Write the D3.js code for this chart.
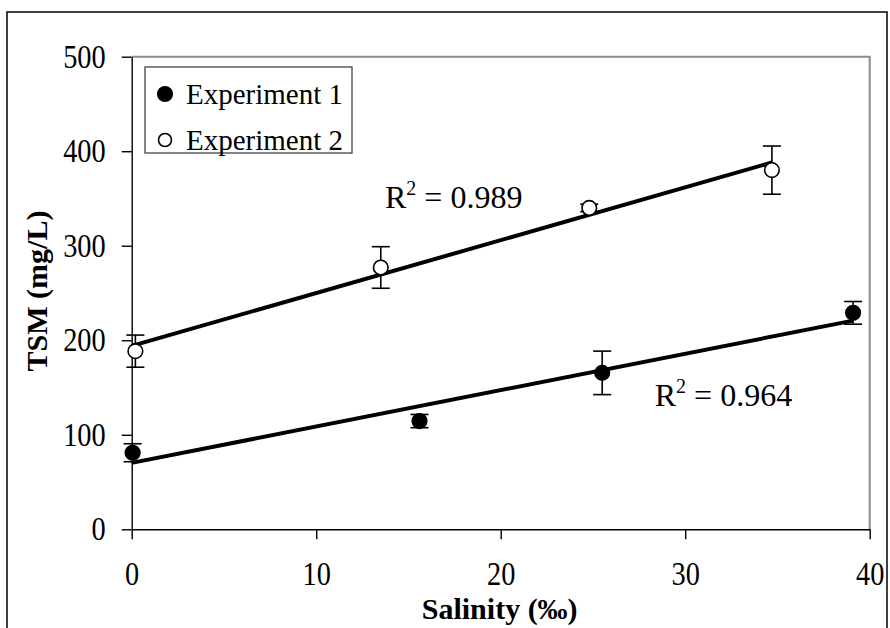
<!DOCTYPE html>
<html>
<head>
<meta charset="utf-8">
<script src="https://cdn.jsdelivr.net/npm/d3@7"></script>
<style>
  body { margin: 0; background: #fff; }
  svg { display: block; font-family: "Liberation Serif", "Times New Roman", serif; }
</style>
</head>
<body>
<div id="chart"></div>
<script>
// values
const exp1Salinity = [0.05, 15.6, 25.5, 39.1]
const exp1TSM = [81, 114.5, 165.5, 229]
const exp1Err = [9.5, 7, 23, 12]

const exp2Salinity = [0.2, 13.5, 24.8, 34.7]
const exp2TSM = [188.5, 277, 340, 380]
const exp2Err = [17, 22, 4, 25.5]

const xTicks = [0, 10, 20, 30, 40]
const yTicks = [0, 100, 200, 300, 400, 500]
const seriesNames = ["Experiment 1", "Experiment 2"]
const r2Labels = ["0.964", "0.989"]

const W = 890, H = 628
const MARGIN = {TOP: 56.7, RIGHT: 20.3, BOTTOM: 98.7, LEFT: 131.7}
const WIDTH = W - MARGIN.LEFT - MARGIN.RIGHT
const HEIGHT = H - MARGIN.TOP - MARGIN.BOTTOM
const SX = 0.86  // tick labels look narrow in the original

const svg = d3.select("#chart").append("svg")
  .attr("width", W)
  .attr("height", H)

// outer frame
svg.append("rect")
  .attr("x", 7).attr("y", 12)
  .attr("width", 880).attr("height", 640)
  .attr("fill", "none")
  .attr("stroke", "#000")
  .attr("stroke-width", 1.5)

const g = svg.append("g")
  .attr("transform", `translate(${MARGIN.LEFT}, ${MARGIN.TOP})`)

const x = d3.scaleLinear().domain([0, 40]).range([0, WIDTH])
const y = d3.scaleLinear().domain([0, 500]).range([HEIGHT, 0])

// plot area border (top and right, grey)
g.append("path")
  .attr("d", `M0,0H${WIDTH}V${HEIGHT}`)
  .attr("fill", "none")
  .attr("stroke", "#8c8c8c")
  .attr("stroke-width", 2)

const xAxis = g.append("g")
  .attr("transform", `translate(0, ${HEIGHT})`)
  .call(d3.axisBottom(x).tickValues(xTicks).tickSize(10).tickSizeOuter(0).tickPadding(22))
const yAxis = g.append("g")
  .call(d3.axisLeft(y).tickValues(yTicks).tickSize(10).tickSizeOuter(0).tickPadding(16))

for (const ax of [xAxis, yAxis]) {
  ax.selectAll("path, line").attr("stroke", "#000").attr("stroke-width", 1.4)
  ax.selectAll("text")
    .attr("font-family", "Liberation Serif")
    .attr("font-size", "33px")
    .attr("fill", "#000")
    .attr("transform", `scale(${SX},1)`)
}
yAxis.selectAll("text").attr("x", -26 / SX)

// axis titles
g.append("text")
  .attr("x", WIDTH / 2 - 1)
  .attr("y", HEIGHT + 90)
  .attr("text-anchor", "middle")
  .attr("font-size", "30px")
  .attr("font-weight", "bold")
  .text("Salinity (‰)")

g.append("text")
  .attr("transform", "rotate(-90)")
  .attr("x", -HEIGHT / 2 + 2)
  .attr("y", -85)
  .attr("text-anchor", "middle")
  .attr("font-size", "30px")
  .attr("font-weight", "bold")
  .text("TSM (mg/L)")

// least squares trend line through each series
function fit(xs, ys) {
  const mx = d3.mean(xs), my = d3.mean(ys)
  const sxy = d3.sum(xs, (v, i) => (v - mx) * (ys[i] - my))
  const sxx = d3.sum(xs, v => (v - mx) * (v - mx))
  const b = sxy / sxx
  const a = my - b * mx
  const x0 = 0, x1 = d3.max(xs)
  return [[x0, a + b * x0], [x1, a + b * x1]]
}

const series = [
  {xs: exp1Salinity, ys: exp1TSM, err: exp1Err, fill: "#000"},
  {xs: exp2Salinity, ys: exp2TSM, err: exp2Err, fill: "#fff"}
]

const line = d3.line().x(d => x(d[0])).y(d => y(d[1]))

series.forEach(function(s) {
  g.append("path")
    .attr("d", line(fit(s.xs, s.ys)))
    .attr("fill", "none")
    .attr("stroke", "#000")
    .attr("stroke-width", 4)
})

series.forEach(function(s) {
  const pts = s.xs.map((v, i) => ({x: v, y: s.ys[i], e: s.err[i]}))
  const eb = g.append("g").attr("stroke", "#000").attr("stroke-width", 1.6)
  eb.selectAll(".v").data(pts).enter().append("line")
    .attr("x1", d => x(d.x)).attr("x2", d => x(d.x))
    .attr("y1", d => y(d.y - d.e)).attr("y2", d => y(d.y + d.e))
  eb.selectAll(".t").data(pts).enter().append("line")
    .attr("x1", d => x(d.x) - 9).attr("x2", d => x(d.x) + 9)
    .attr("y1", d => y(d.y + d.e)).attr("y2", d => y(d.y + d.e))
  eb.selectAll(".b").data(pts).enter().append("line")
    .attr("x1", d => x(d.x) - 9).attr("x2", d => x(d.x) + 9)
    .attr("y1", d => y(d.y - d.e)).attr("y2", d => y(d.y - d.e))

  g.append("g").selectAll("circle").data(pts).enter().append("circle")
    .attr("cx", d => x(d.x))
    .attr("cy", d => y(d.y))
    .attr("r", 7.3)
    .attr("fill", s.fill)
    .attr("stroke", "#000")
    .attr("stroke-width", 1.6)
})

// R squared labels
function r2(px, py, val) {
  const t = g.append("text")
    .attr("x", x(px)).attr("y", y(py))
    .attr("font-size", "32px")
  t.append("tspan").text("R")
  t.append("tspan").attr("font-size", "20px").attr("dy", -13).text("2")
  t.append("tspan").attr("dy", 13).text(" = " + val)
}
r2(28.35, 130, r2Labels[0])
r2(13.73, 340, r2Labels[1])

// legend
const lg = svg.append("g").attr("transform", "translate(145, 67)")
lg.append("rect")
  .attr("width", 207).attr("height", 86)
  .attr("fill", "#fff")
  .attr("stroke", "#444")
  .attr("stroke-width", 1.3)
seriesNames.forEach(function(name, i) {
  lg.append("circle")
    .attr("cx", 20).attr("cy", 27 + i * 46)
    .attr("r", i === 0 ? 7.3 : 6.5)
    .attr("fill", series[i].fill)
    .attr("stroke", "#000")
    .attr("stroke-width", 1.6)
  lg.append("text")
    .attr("x", 41).attr("y", 37 + i * 46)
    .attr("font-size", "29px")
    .text(name)
})
</script>
</body>
</html>
